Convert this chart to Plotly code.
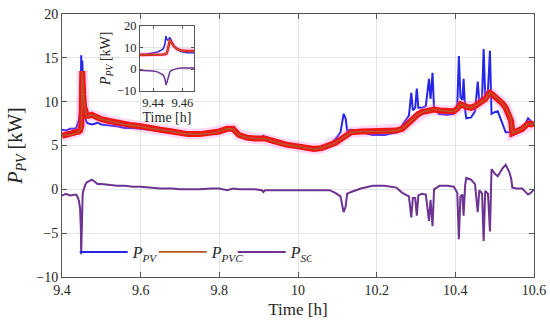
import plotly.graph_objects as go

# time [h]
t = [9.400, 9.410, 9.420, 9.430, 9.436, 9.440, 9.443, 9.446, 9.447, 9.448,
     9.4488, 9.4493, 9.4500, 9.4508, 9.4515, 9.4525, 9.4540, 9.4560, 9.4590, 9.4630,
     9.4680, 9.476, 9.485, 9.490, 9.500, 9.520, 9.540, 9.560, 9.580, 9.600,
     9.620, 9.650, 9.680, 9.700, 9.720, 9.750, 9.780, 9.800, 9.820, 9.835,
     9.850, 9.870, 9.890, 9.908, 9.912, 9.916, 9.930, 9.950, 9.970, 10.000,
     10.020, 10.040, 10.060, 10.080, 10.095, 10.108, 10.116, 10.121, 10.125, 10.135,
     10.160, 10.190, 10.220, 10.250, 10.265, 10.282, 10.288, 10.292, 10.298, 10.302,
     10.306, 10.315, 10.325, 10.333, 10.337, 10.342, 10.346, 10.360, 10.380, 10.396,
     10.405, 10.409, 10.413, 10.418, 10.421, 10.425, 10.428, 10.440, 10.450, 10.457,
     10.461, 10.468, 10.472, 10.476, 10.483, 10.488, 10.492, 10.500, 10.508, 10.520,
     10.528, 10.537, 10.542, 10.545, 10.555, 10.570, 10.585, 10.592, 10.600]

# P_PVC [kW]
p_pvc = [6.1, 6.2, 6.2, 6.3, 6.4, 6.5, 6.6, 6.7, 6.8, 6.9,
         7.0, 7.3, 9.0, 11.5, 13.5, 12.5, 10.8, 9.5, 8.7, 8.4,
         8.4, 8.5, 8.3, 8.2, 8.0, 7.8, 7.6, 7.4, 7.3, 7.2,
         7.0, 6.8, 6.6, 6.4, 6.3, 6.3, 6.4, 6.6, 6.9, 6.9,
         6.2, 5.9, 5.8, 5.8, 5.8, 5.8, 5.6, 5.3, 5.1, 4.9,
         4.7, 4.6, 4.7, 5.0, 5.3, 5.7, 6.0, 6.1, 6.2, 6.5,
         6.6, 6.6, 6.6, 6.7, 6.9, 7.6, 7.8, 8.0, 8.3, 8.5,
         8.6, 8.8, 8.9, 9.0, 9.1, 9.1, 9.1, 9.0, 8.9, 8.9,
         9.2, 9.5, 9.7, 9.6, 9.6, 9.5, 9.4, 9.3, 9.5, 9.7,
         9.8, 10.0, 10.1, 10.3, 10.8, 11.0, 10.9, 10.6, 10.4, 9.8,
         9.3, 8.5, 7.8, 6.4, 6.6, 6.9, 7.5, 7.4, 7.5]

# P_SC [kW]
p_sc = [-0.7, -0.5, -0.7, -0.6, -0.6, -0.9, -1.3, -2.2, -2.8, -4.5,
        -7.4, -6.5, -4.5, -2.5, -1.2, -0.6, -0.2, 0.2, 0.5, 0.8,
        0.9, 1.1, 0.8, 0.6, 0.6, 0.5, 0.4, 0.4, 0.3, 0.3,
        0.2, 0.1, 0.1, 0.0, 0.0, 0.0, 0.1, 0.1, -0.1, 0.1,
        0.0, 0.0, 0.0, -0.1, -0.3, -0.1, -0.1, -0.1, -0.1, -0.1,
        -0.1, -0.1, -0.1, -0.1, -0.4, -0.8, -2.6, -2.0, -0.5, -0.3,
        0.1, 0.4, 0.4, 0.2, -0.4, -0.8, -3.2, -1.0, -1.0, -3.0,
        -0.7, -0.5, -0.6, -3.6, -1.2, -4.2, 0.0, 0.4, 0.4, 0.3,
        -0.4, -5.7, -0.8, -0.6, -3.0, 0.5, 1.3, 1.1, 0.6, -2.6,
        -0.1, -0.5, -5.9, -0.2, -0.5, -4.8, 2.3, 1.8, 1.5, 2.4,
        2.8, 2.0, 1.2, 0.2, 0.1, 0.1, -0.6, -0.4, 0.0]

# P_PV [kW]
p_pv = [6.8, 6.7, 6.9, 6.9, 7.0, 7.4, 7.9, 8.9, 9.6, 11.4,
        15.3, 13.8, 13.5, 14.0, 14.7, 13.1, 11.0, 9.3, 8.2, 7.6,
        7.5, 7.4, 7.5, 7.6, 7.4, 7.3, 7.2, 7.0, 7.0, 6.9,
        6.8, 6.7, 6.5, 6.4, 6.3, 6.3, 6.3, 6.5, 7.0, 6.8,
        6.2, 5.9, 5.8, 5.9, 6.1, 5.9, 5.7, 5.4, 5.2, 5.0,
        4.8, 4.7, 4.8, 5.1, 5.7, 6.5, 8.6, 8.1, 6.7, 6.8,
        6.5, 6.2, 6.2, 6.5, 7.3, 8.4, 11.0, 9.0, 9.3, 11.5,
        9.3, 9.3, 9.5, 12.6, 10.3, 13.3, 9.1, 8.6, 8.5, 8.6,
        9.6, 15.2, 10.5, 10.2, 12.6, 9.0, 8.1, 8.2, 8.9, 12.3,
        9.9, 10.5, 16.0, 10.5, 11.3, 15.8, 8.6, 8.8, 8.9, 7.4,
        6.5, 6.5, 6.6, 6.2, 6.5, 6.8, 8.1, 7.8, 7.5]

x_ticks = [9.4, 9.6, 9.8, 10, 10.2, 10.4, 10.6]
x_tick_text = ["9.4", "9.6", "9.8", "10", "10.2", "10.4", "10.6"]
y_ticks = [-10, -5, 0, 5, 10, 15, 20]
inset_x_ticks = [9.44, 9.46]
inset_y_ticks = [-10, 0, 10, 20]

FONT = "Liberation Serif"
TXT = "#262626"
BLUE = "#2626e8"
RED = "#f01414"
PINK = "rgba(255,110,225,0.28)"
ORANGE = "#b8562a"
PURPLE = "#6c3392"

fig = go.Figure()

for xa, ya, show in [("x", "y", True), ("x2", "y2", False)]:
    fig.add_trace(go.Scatter(x=t, y=p_pv, mode="lines", name="<i>P</i><sub><i>PV</i></sub>",
                             line=dict(color=BLUE, width=2 if show else 1.6),
                             xaxis=xa, yaxis=ya, showlegend=show))
    fig.add_trace(go.Scatter(x=t, y=p_pvc, mode="lines", showlegend=False, hoverinfo="skip",
                             line=dict(color=PINK, width=11 if show else 5),
                             xaxis=xa, yaxis=ya))
    fig.add_trace(go.Scatter(x=t, y=p_pvc, mode="lines", showlegend=False, hoverinfo="skip",
                             line=dict(color=RED, width=6 if show else 2.5),
                             xaxis=xa, yaxis=ya))
    fig.add_trace(go.Scatter(x=t, y=p_pvc, mode="lines", name="<i>P</i><sub><i>PVC</i></sub>",
                             line=dict(color=ORANGE, width=1.6 if show else 1.2),
                             xaxis=xa, yaxis=ya, showlegend=show))
    fig.add_trace(go.Scatter(x=t, y=p_sc, mode="lines", name="<i>P</i><sub><i>SC</i></sub>",
                             line=dict(color=PURPLE, width=2 if show else 1.5),
                             xaxis=xa, yaxis=ya, showlegend=show))

axis_common = dict(showline=True, linecolor="#555555", linewidth=1, mirror="ticks",
                   ticks="inside", ticklen=5, tickcolor="#555555", automargin=False,
                   ticklabeloverflow="allow",
                   showgrid=True, gridcolor="#e4e4e4", gridwidth=1, zeroline=False,
                   tickfont=dict(family=FONT, size=14, color=TXT))
inset_tf = dict(family=FONT, size=12.5, color=TXT)

fig.update_layout(
    width=550, height=330,
    margin=dict(l=62, r=16, t=14, b=53, autoexpand=False),
    paper_bgcolor="white", plot_bgcolor="white",
    font=dict(family=FONT, color=TXT),
    xaxis=dict(range=[9.4, 10.6], tickvals=x_ticks, ticktext=x_tick_text,
               title=dict(text="Time [h]", font=dict(family=FONT, size=17, color=TXT), standoff=6),
               domain=[0, 1], **axis_common),
    yaxis=dict(range=[-10, 20], tickvals=y_ticks,
               title=dict(text="<i>P</i><sub><i>PV</i></sub> [kW]",
                          font=dict(family=FONT, size=20, color=TXT), standoff=8),
               domain=[0, 1], **axis_common),
    xaxis2=dict(range=[9.431, 9.468], tickvals=inset_x_ticks, anchor="y2",
                domain=[0.165, 0.28],
                title=dict(text="Time [h]", font=dict(family=FONT, size=14, color=TXT), standoff=0),
                **{**axis_common, "ticklen": 3, "tickfont": inset_tf}),
    yaxis2=dict(range=[-10, 20], tickvals=inset_y_ticks, anchor="x2",
                domain=[0.709, 0.954],
                title=dict(text="<i>P</i><sub><i>PV</i></sub> [kW]",
                           font=dict(family=FONT, size=14, color=TXT), standoff=2),
                **{**axis_common, "ticklen": 3, "tickfont": inset_tf}),
    legend=dict(orientation="h", x=0.027, y=0.095, xanchor="left", yanchor="middle",
                bgcolor="rgba(255,255,255,0)", borderwidth=0,
                font=dict(family=FONT, size=16, color=TXT),
                entrywidth=16, entrywidthmode="pixels", itemwidth=48, tracegroupgap=0),
    shapes=[
        dict(type="rect", xref="x2 domain", yref="y2 domain", x0=0, x1=1, y0=0, y1=1,
             fillcolor="white", line=dict(width=0), layer="below"),
    ],
    showlegend=True,
)

fig.write_html("out.html", config={"displayModeBar": False},
               post_script="document.body.style.margin='0px';document.body.style.overflow='hidden';")
